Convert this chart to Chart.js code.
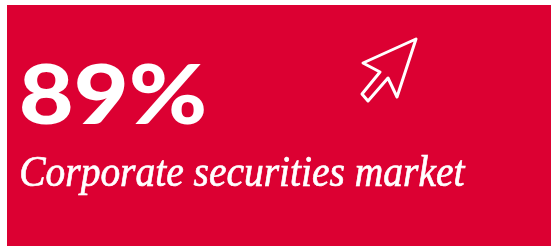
<!DOCTYPE html>
<html>
<head>
<meta charset="utf-8">
<script src="https://cdn.jsdelivr.net/npm/chart.js@4/dist/chart.umd.min.js"></script>
<style>
  html, body { margin: 0; padding: 0; background: #fff; }
  #wrap { position: absolute; left: 7px; top: 5px; width: 544px; height: 241px; }
</style>
</head>
<body>
<div id="wrap"><canvas id="kpiCard"></canvas></div>
<script>
/* ── KPI data ───────────────────────────────────────────────── */
const kpiValues = [89];
const kpiUnits  = ['%'];
const kpiLabels = ['Corporate securities market'];

const cardRed = '#dc0032';

/* draws the card: background, big number, italic caption, cursor icon */
const kpiCardPlugin = {
    id: 'kpiCard',
    beforeDraw(chart) {
        const { ctx, width, height } = chart;
        ctx.save();
        ctx.fillStyle = cardRed;
        ctx.fillRect(0, 0, width, height);
        ctx.restore();
    },
    afterDraw(chart) {
        const { ctx } = chart;
        ctx.save();
        ctx.fillStyle = '#fff';
        ctx.strokeStyle = '#fff';
        ctx.textBaseline = 'alphabetic';

        // big value, fitted to the box it occupies in the card
        const big = kpiValues[0] + kpiUnits[0];
        ctx.font = '900 82px Lato';
        fitText(ctx, big, 14, 119, 183, 0);

        // caption (a hairline stroke thickens the italic a touch)
        ctx.font = 'italic 44px "Liberation Serif"';
        fitText(ctx, kpiLabels[0], 14, 181, 445, 0.7);

        // cursor icon
        ctx.lineWidth = 3;
        ctx.lineJoin = 'round';
        ctx.beginPath();
        ctx.moveTo(409, 34);
        ctx.lineTo(356, 58);
        ctx.lineTo(373, 67);
        ctx.lineTo(355, 89);
        ctx.lineTo(361, 96);
        ctx.lineTo(381, 73);
        ctx.lineTo(390, 92);
        ctx.closePath();
        ctx.stroke();
        ctx.restore();
    },
};

function fitText(ctx, text, x, y, w, stroke) {
    const m = ctx.measureText(text);
    const left = m.actualBoundingBoxLeft;
    const tw = m.actualBoundingBoxLeft + m.actualBoundingBoxRight;
    const sx = w / tw;
    ctx.save();
    ctx.translate(x, y);
    ctx.scale(sx, 1);
    ctx.fillText(text, left, 0);
    if (stroke) {
        ctx.lineWidth = stroke;
        ctx.strokeText(text, left, 0);
    }
    ctx.restore();
}

new Chart(document.getElementById('kpiCard'), {
    type: 'bar',
    data: { labels: kpiLabels, datasets: [] },
    options: {
        responsive: true,
        maintainAspectRatio: false,
        animation: false,
        events: [],
        plugins: { legend: { display: false }, tooltip: { enabled: false } },
        scales: { x: { display: false }, y: { display: false } },
    },
    plugins: [kpiCardPlugin],
});
</script>
</body>
</html>
